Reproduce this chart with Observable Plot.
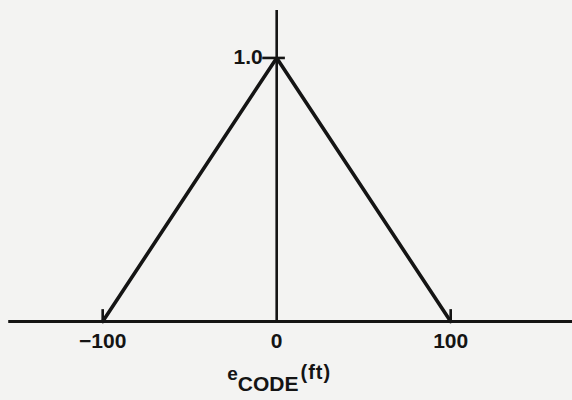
<!DOCTYPE html>
<html>
<head>
<meta charset="utf-8">
<script src="https://cdn.jsdelivr.net/npm/d3@7"></script>
<script src="https://cdn.jsdelivr.net/npm/@observablehq/plot@0.6"></script>
<style>
  body { margin: 0; background: #f3f3f2; }
  #chart { width: 572px; height: 400px; }
  #chart svg { background: transparent; }
</style>
</head>
<body>
<div id="chart"></div>
<script>
// Triangular weighting as a function of code error (ft)
const codeError = [-100, 0, 100];
const weight = [0, 1.0, 0];

// Axis ticks and extents
const xTicks = [-100, 0, 100];
const yTickValue = 1.0;
const xAxisExtent = [-154, 170];
const yAxisTop = 1.18;

const data = codeError.map((x, i) => ({x, y: weight[i]}));
const ink = "#141414";
const font = "'Liberation Sans', Arial, Helvetica, sans-serif";

const plot = Plot.plot({
  width: 572,
  height: 400,
  marginLeft: 3,
  marginRight: 0,
  marginTop: 10,
  marginBottom: 79,
  style: {background: "transparent", fontFamily: font, color: ink},
  x: {domain: [-157, 170]},
  y: {domain: [0, yAxisTop], axis: null},
  marks: [
    // horizontal axis line
    Plot.ruleY([0], {x1: xAxisExtent[0], x2: xAxisExtent[1], stroke: ink, strokeWidth: 3}),
    // vertical axis line through zero
    Plot.ruleX([0], {y1: 0, y2: yAxisTop, stroke: ink, strokeWidth: 2.6}),
    // short ticks at ±100
    Plot.ruleX(xTicks.filter(d => d !== 0), {y1: 0, y2: 0.045, stroke: ink, strokeWidth: 2.6}),
    // tick at 1.0
    Plot.ruleY([yTickValue], {x1: -8, x2: 5, stroke: ink, strokeWidth: 2.6}),
    Plot.text([yTickValue], {
      x: 0, y: d => d, text: d => d.toFixed(1),
      textAnchor: "end", dx: -14, dy: -1,
      fontSize: 21, fontWeight: "bold", fill: ink, fontFamily: font
    }),
    // the triangle
    Plot.line(data, {x: "x", y: "y", stroke: ink, strokeWidth: 3.6, strokeLinejoin: "miter"}),
    // x tick labels
    Plot.axisX({
      ticks: xTicks, tickSize: 0, tickPadding: 12,
      tickFormat: d => d < 0 ? "\u2212" + Math.abs(d) : String(d),
      fontSize: 21, fontWeight: "bold", fill: ink, fontFamily: font,
      label: null
    })
  ]
});

// Axis title: e_CODE (ft) with raised "e" and "(ft)"
const svg = d3.select(plot);
const xs = plot.scale("x");
const title = svg.append("text")
  .attr("x", xs.apply(0) + 3)
  .attr("y", 391)
  .attr("text-anchor", "middle")
  .attr("fill", ink)
  .attr("font-family", font)
  .attr("font-weight", "bold");
title.append("tspan").attr("font-size", 19).attr("dy", -11).text("e");
title.append("tspan").attr("font-size", 21).attr("dy", 11).text("CODE");
title.append("tspan").attr("font-size", 20).attr("dy", -12).attr("letter-spacing", 1).attr("dx", 2).text("(ft)");

document.getElementById("chart").appendChild(plot);
</script>
</body>
</html>
